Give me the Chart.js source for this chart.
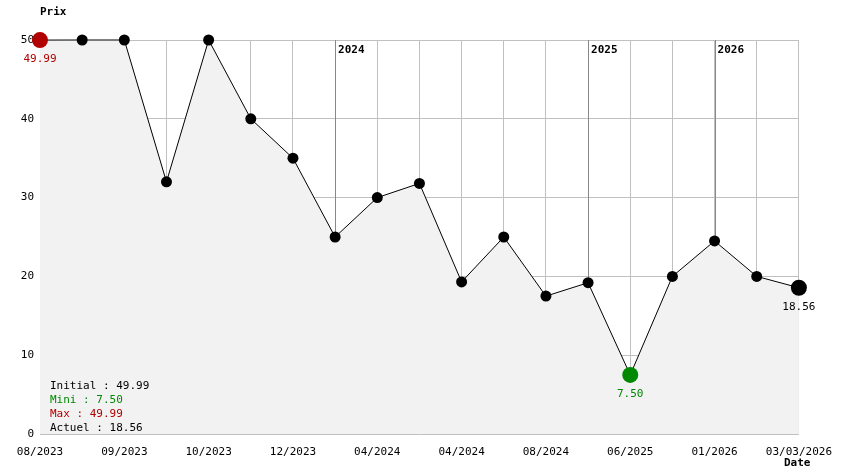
<!DOCTYPE html>
<html>
<head>
<meta charset="utf-8">
<script src="https://cdn.jsdelivr.net/npm/chart.js@4"></script>
<style>
  body { margin: 0; background: #fff; }
  #wrap { width: 844px; height: 474px; }
</style>
</head>
<body>
<div id="wrap"><canvas id="c"></canvas></div>
<script>
const labels = ['08/2023','','09/2023','','10/2023','','12/2023','','04/2024','','04/2024','','08/2024','','06/2025','','01/2026','','03/03/2026'];
const prices = [49.99, 50, 50, 32, 50, 40, 35, 25, 30, 31.8, 19.3, 25, 17.5, 19.2, 7.5, 20, 24.5, 20, 18.56];
const yearIdx = [7, 13, 16];
const yearNames = ['2024', '2025', '2026'];
const stats = [['Initial : 49.99', '#000'], ['Mini : 7.50', '#008800'], ['Max : 49.99', '#b00000'], ['Actuel : 18.56', '#000']];

const MONO = '"DejaVu Sans Mono", monospace';
const ptColors = prices.map((v, i) => i === 0 ? '#b00000' : (v === 7.5 ? '#008800' : '#000'));
const ptRadius = prices.map((v, i) => (i === 0 || i === prices.length - 1 || v === 7.5) ? 8 : 5.5);

// lignes des années, étiquettes et texte des stats
const extras = {
  id: 'extras',
  beforeDatasetsDraw(chart) {
    const { ctx, scales: { x, y } } = chart;
    ctx.save();
    ctx.strokeStyle = '#888';
    ctx.lineWidth = 1;
    yearIdx.forEach(i => {
      const px = Math.round(x.getPixelForValue(i)) + 0.5;
      ctx.beginPath();
      ctx.moveTo(px, y.getPixelForValue(50));
      ctx.lineTo(px, y.getPixelForValue(prices[i]));
      ctx.stroke();
    });
    ctx.restore();
  },
  afterDatasetsDraw(chart) {
    const { ctx, scales: { x, y } } = chart;
    ctx.save();
    ctx.font = 'bold 11px ' + MONO;
    ctx.fillStyle = '#000';
    ctx.textBaseline = 'middle';
    yearIdx.forEach((i, k) => ctx.fillText(yearNames[k], x.getPixelForValue(i) + 3, 50));
    ctx.fillText('Prix', 40, 12);
    ctx.fillText('Date', 784, 463);
    ctx.font = '11px ' + MONO;
    ctx.textAlign = 'center';
    ctx.fillStyle = '#b00000';
    ctx.fillText('49.99', x.getPixelForValue(0), y.getPixelForValue(prices[0]) + 19);
    ctx.fillStyle = '#008800';
    ctx.fillText('7.50', x.getPixelForValue(14), y.getPixelForValue(7.5) + 19);
    ctx.fillStyle = '#000';
    ctx.fillText('18.56', x.getPixelForValue(18), y.getPixelForValue(18.56) + 19);
    ctx.textAlign = 'left';
    stats.forEach((s, k) => { ctx.fillStyle = s[1]; ctx.fillText(s[0], 50, 386 + k * 14); });
    ctx.restore();
  }
};

new Chart(document.getElementById('c'), {
  type: 'line',
  data: {
    labels: labels,
    datasets: [{
      data: prices,
      borderColor: '#000',
      borderWidth: 1,
      fill: true,
      clip: false,
      backgroundColor: '#f2f2f2',
      tension: 0,
      pointBackgroundColor: ptColors,
      pointBorderColor: ptColors,
      pointRadius: ptRadius,
      pointBorderWidth: 0
    }]
  },
  options: {
    responsive: true,
    maintainAspectRatio: false,
    animation: false,
    events: [],
    layout: { padding: { top: 40, right: 32, left: 0, bottom: 0 } },
    plugins: { legend: { display: false }, tooltip: { enabled: false } },
    scales: {
      x: {
        offset: false,
        afterFit: s => { s.height = 40; },
        grid: { color: '#c0c0c0', drawTicks: false },
        border: { display: false },
        ticks: { autoSkip: false, maxRotation: 0, color: '#000', font: { family: MONO, size: 11 }, padding: 12 }
      },
      y: {
        min: 0, max: 50,
        afterFit: s => { s.width = 40; },
        grid: { color: '#c0c0c0', drawTicks: false },
        border: { display: false },
        ticks: { stepSize: 10, color: '#000', font: { family: MONO, size: 11 }, padding: 6 }
      }
    }
  },
  plugins: [extras]
});
</script>
</body>
</html>
